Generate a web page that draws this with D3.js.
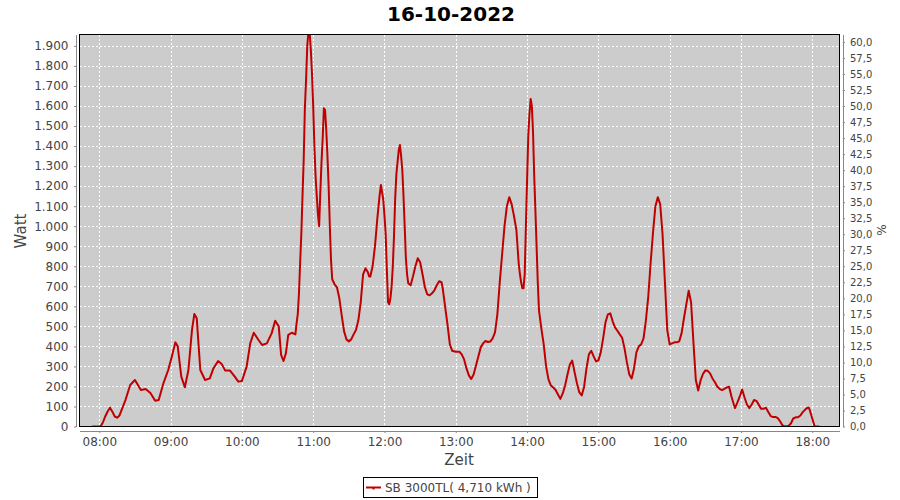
<!DOCTYPE html>
<html><head><meta charset="utf-8">
<script src="https://cdn.jsdelivr.net/npm/d3@7"></script>
<style>
html,body{margin:0;padding:0;background:#fff;}
svg{display:block;font-family:"DejaVu Sans",sans-serif;}
</style></head>
<body><svg id="c" width="900" height="500"></svg>
<script>
const title = "16-10-2022";
const seriesName = "SB 3000TL( 4,710 kWh )";
const times = ["07:54","08:01","08:03","08:05","08:07","08:09","08:11","08:13","08:15","08:17","08:22","08:26","08:30","08:35","08:39","08:43","08:47","08:50","08:54","08:58","09:01","09:04","09:06","09:09","09:12","09:15","09:18","09:20","09:22","09:25","09:29","09:33","09:36","09:40","09:43","09:46","09:50","09:54","09:57","10:00","10:04","10:07","10:10","10:14","10:17","10:21","10:25","10:28","10:31","10:33","10:35","10:37","10:39","10:42","10:45","10:46","10:47","10:48","10:49","10:50","10:51","10:52","10:53","10:54","10:55","10:56","10:57","10:58","10:59","11:00","11:01","11:02","11:03","11:04","11:05","11:06","11:07","11:08","11:09","11:10","11:11","11:12","11:13","11:14","11:15","11:16","11:18","11:20","11:22","11:24","11:26","11:28","11:30","11:32","11:34","11:36","11:38","11:40","11:42","11:44","11:46","11:47","11:48","11:50","11:52","11:54","11:56","11:57","11:59","12:00","12:01","12:02","12:03","12:04","12:05","12:06","12:07","12:08","12:09","12:10","12:11","12:12","12:13","12:14","12:15","12:16","12:17","12:18","12:19","12:20","12:22","12:24","12:26","12:28","12:30","12:32","12:34","12:36","12:38","12:40","12:42","12:44","12:46","12:48","12:49","12:51","12:53","12:55","12:57","13:00","13:03","13:05","13:07","13:09","13:11","13:13","13:15","13:17","13:19","13:21","13:23","13:25","13:27","13:29","13:31","13:33","13:35","13:37","13:39","13:41","13:43","13:45","13:47","13:49","13:51","13:53","13:54","13:55","13:56","13:57","13:58","13:59","14:00","14:01","14:02","14:03","14:04","14:05","14:06","14:07","14:08","14:09","14:10","14:12","14:14","14:16","14:18","14:20","14:22","14:24","14:26","14:28","14:30","14:32","14:34","14:36","14:38","14:40","14:42","14:44","14:46","14:48","14:50","14:52","14:54","14:56","14:58","15:00","15:02","15:04","15:06","15:08","15:10","15:12","15:14","15:16","15:18","15:20","15:22","15:24","15:26","15:28","15:30","15:32","15:34","15:36","15:38","15:40","15:42","15:44","15:46","15:48","15:50","15:52","15:54","15:56","15:58","16:00","16:02","16:04","16:06","16:08","16:10","16:12","16:14","16:16","16:18","16:20","16:22","16:24","16:26","16:28","16:30","16:32","16:34","16:36","16:38","16:40","16:42","16:44","16:46","16:48","16:50","16:52","16:54","16:55","16:57","16:59","17:01","17:03","17:05","17:07","17:09","17:11","17:13","17:15","17:17","17:19","17:21","17:23","17:25","17:27","17:29","17:31","17:33","17:35","17:37","17:40","17:42","17:44","17:46","17:48","17:50","17:52","17:55","17:57","17:58","18:00","18:02","18:06"];
const watts = [0,0,20,50,75,94,74,50,44,55,132,207,232,182,187,167,129,132,217,282,348,420,400,249,196,282,482,562,540,282,232,240,290,327,312,279,279,249,224,227,299,415,468,432,407,415,465,528,500,357,327,365,457,468,460,515,560,660,815,960,1150,1330,1590,1730,1900,1970,1970,1880,1760,1600,1400,1250,1150,1060,1000,1170,1320,1440,1589,1580,1480,1350,1200,1000,830,735,710,695,640,555,475,435,425,435,460,482,530,620,760,790,770,750,748,800,900,1040,1160,1206,1131,1050,960,780,620,610,640,700,800,950,1140,1260,1320,1380,1405,1350,1280,1150,1000,840,760,715,705,750,800,840,820,760,695,660,655,665,680,705,725,720,690,600,510,410,378,373,373,360,335,290,255,237,260,305,350,395,415,427,422,424,440,470,560,720,860,1000,1100,1145,1110,1050,981,810,760,720,690,690,760,1000,1231,1450,1560,1635,1600,1470,1250,1080,900,720,580,490,410,300,235,205,195,182,160,138,165,205,260,310,329,270,215,170,155,199,290,360,378,350,325,330,370,440,520,560,565,525,495,478,460,443,390,320,260,240,290,370,400,410,440,530,650,820,970,1100,1145,1110,960,720,480,410,415,420,420,425,465,540,610,678,620,420,232,180,230,262,280,278,265,240,222,200,188,182,188,195,198,150,110,92,120,150,185,145,110,92,110,132,128,108,88,88,94,72,52,47,48,42,25,5,0,3,15,40,46,46,55,72,90,95,80,40,0,0];
const leftTicks = [0,100,200,300,400,500,600,700,800,900,1000,1100,1200,1300,1400,1500,1600,1700,1800,1900];
const rightTicks = [0,2.5,5,7.5,10,12.5,15,17.5,20,22.5,25,27.5,30,32.5,35,37.5,40,42.5,45,47.5,50,52.5,55,57.5,60];
const hourTicks = ["08:00","09:00","10:00","11:00","12:00","13:00","14:00","15:00","16:00","17:00","18:00"];
const xStart = "07:43:20", xEnd = "18:22:55";
const yMaxW = 1957, yMaxPct = 61.16;

const svg = d3.select("#c");
const L = 79.5, R = 839.5, T = 34.5, B = 426.5;
const pT = d3.timeParse("%H:%M"), pS = d3.timeParse("%H:%M:%S");
const x = d3.scaleTime().domain([pS(xStart), pS(xEnd)]).range([L, R]);
const y = d3.scaleLinear().domain([0, yMaxW]).range([B, T]);
const y2 = d3.scaleLinear().domain([0, yMaxPct]).range([B, T]);
const loc = d3.formatLocale({decimal:",",thousands:".",grouping:[3],currency:["",""]});
const fL = loc.format(",d"), fR = loc.format(".1f");
const data = times.map((t,i)=>({t:pT(t), v:watts[i]}));

// title
svg.append("text").attr("x",451).attr("y",20.5).attr("text-anchor","middle")
  .attr("font-size",20).attr("font-weight","bold").attr("fill","#000").text(title);

// plot bg
svg.append("rect").attr("x",L).attr("y",T).attr("width",R-L).attr("height",B-T).attr("fill","#cccccc");

// grid
const g = svg.append("g").attr("stroke","#fff").attr("stroke-width",1).attr("stroke-dasharray","2,2").attr("shape-rendering","crispEdges");
leftTicks.filter(d=>d>0).forEach(d=>{
  g.append("line").attr("x1",L).attr("x2",R).attr("y1",Math.round(y(d))+0.5).attr("y2",Math.round(y(d))+0.5);
});
hourTicks.forEach(h=>{
  const xx = Math.round(x(pT(h)))+0.5;
  g.append("line").attr("x1",xx).attr("x2",xx).attr("y1",T).attr("y2",B);
});

// line
svg.append("clipPath").attr("id","cp").append("rect").attr("x",L).attr("y",T).attr("width",R-L).attr("height",B-T);
svg.append("path").datum(data).attr("clip-path","url(#cp)")
  .attr("d", d3.line().x(d=>x(d.t)).y(d=>y(d.v)))
  .attr("fill","none").attr("stroke","#c00000").attr("stroke-width",2).attr("stroke-linejoin","round");

// border
svg.append("rect").attr("x",L).attr("y",T).attr("width",R-L).attr("height",B-T).attr("fill","none").attr("stroke","#000").attr("stroke-width",1);

function styleAxis(sel){
  sel.selectAll(".domain").attr("stroke","#888");
  sel.selectAll(".tick line").attr("stroke","#888");
  sel.selectAll("text").attr("fill","#444").attr("font-family","DejaVu Sans");
}
// left axis
const ax1 = svg.append("g").attr("transform","translate(76,0)")
  .call(d3.axisLeft(y).tickValues(leftTicks).tickFormat(fL).tickSize(2).tickSizeOuter(0).tickPadding(5.5))
  .attr("font-size",12);
styleAxis(ax1);
// right axis
const ax2 = svg.append("g").attr("transform","translate(843,0)")
  .call(d3.axisRight(y2).tickValues(rightTicks).tickFormat(fR).tickSize(2).tickSizeOuter(0).tickPadding(5))
  .attr("font-size",10);
styleAxis(ax2);
// bottom axis
const ax3 = svg.append("g").attr("transform","translate(0,431)")
  .call(d3.axisBottom(x).tickValues(hourTicks.map(h=>pT(h))).tickFormat(d3.timeFormat("%H:%M")).tickSize(2).tickSizeOuter(0).tickPadding(4.5))
  .attr("font-size",12);
styleAxis(ax3);

// axis labels
svg.append("text").attr("transform","translate(26,231) rotate(-90)").attr("text-anchor","middle")
  .attr("font-size",15).attr("fill","#444").text("Watt");
svg.append("text").attr("x",459).attr("y",465).attr("text-anchor","middle")
  .attr("font-size",15).attr("fill","#444").text("Zeit");
svg.append("text").attr("transform","translate(886,230) rotate(-90)").attr("text-anchor","middle")
  .attr("font-size",12).attr("fill","#444").text("%");

// legend
const lg = svg.append("g");
lg.append("rect").attr("x",363.5).attr("y",477.5).attr("width",174).attr("height",20).attr("fill","#fff").attr("stroke","#000");
lg.append("line").attr("x1",366).attr("x2",381).attr("y1",487.5).attr("y2",487.5).attr("stroke","#c00000").attr("stroke-width",2);
lg.append("rect").attr("x",372.5).attr("y",488).attr("width",2).attr("height",1.5).attr("fill","#c00000");
lg.append("text").attr("x",385).attr("y",492).attr("font-size",12).attr("fill","#444").text(seriesName);
</script></body></html>
